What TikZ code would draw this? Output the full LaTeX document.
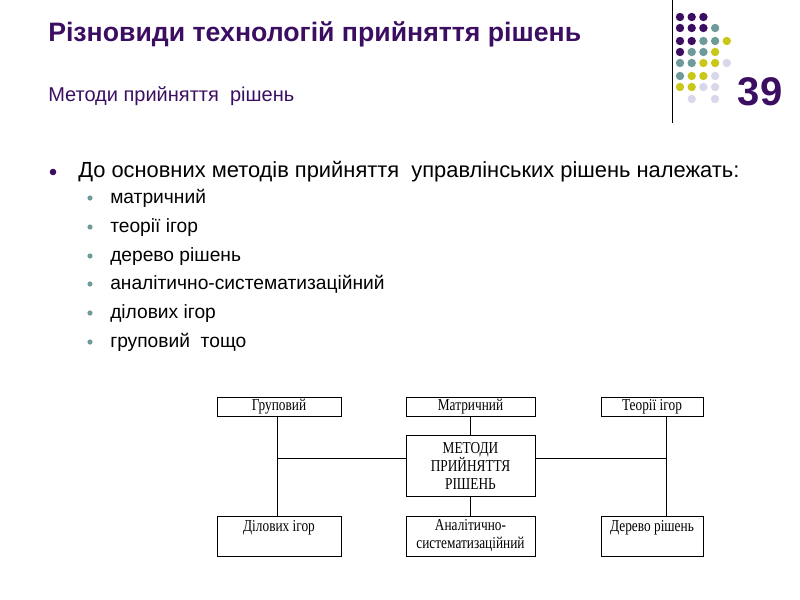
\documentclass[tikz,border=0pt]{standalone}
\usepackage{fontspec}
\setmainfont{Liberation Sans}
\newfontfamily\tms[FakeStretch=0.8]{Liberation Serif}
\begin{document}
\begin{tikzpicture}[x=0.75pt,y=-0.75pt,
  bx/.style={draw,semithick,inner sep=0,align=center,font=\tms\fontsize{12.5}{13.5}\selectfont},
  ln/.style={semithick}]
\definecolor{P}{HTML}{3B0E62}\definecolor{T}{HTML}{6E9A9A}\definecolor{Y}{HTML}{C9C81A}\definecolor{L}{HTML}{D8D8EA}
\useasboundingbox (0,0) rectangle (800,600);
\draw (672,0) -- (672,123);
\foreach \r/\row in {17/{P,P,P},28/{P,P,P,T},41/{P,P,T,T,Y},52/{P,T,T,Y},63/{T,T,Y,Y,L},76/{T,Y,Y,L},87/{Y,Y,L,L}}{
  \foreach \c [count=\i from 0] in \row {\fill[\c] (680+11.7*\i,\r) circle (4.2);}}
\fill[L] (691.7,99) circle (4.2); \fill[L] (715,99) circle (4.2);
\node[anchor=base,text=P,font=\bfseries\fontsize{30}{30}\selectfont] (num) at (760,105) {39};
\node[anchor=base west,text=P,font=\bfseries\fontsize{20}{22}\selectfont,inner sep=0] (t) at (48,41) {Різновиди технологій прийняття рішень};
\node[anchor=base west,text=P,font=\fontsize{15}{17}\selectfont,inner sep=0] (s) at (48,101) {Методи прийняття\ \ рішень};
\fill[P] (53,172) circle (3.3);
\node[anchor=base west,font=\fontsize{16.4}{18}\selectfont,inner sep=0] (m) at (78,177) {До основних методів прийняття\ \ управлінських рішень належать:};
\foreach \y/\t in {198/матричний,227/теорії ігор,256/дерево рішень,284/аналітично-систематизаційний,313/ділових ігор,342/груповий\ \ тощо}{
  \fill[T] (90,\y) circle (2.6);
  \node[anchor=base west,font=\fontsize{14.4}{16}\selectfont,inner sep=0] at (110,\y+5) {\t};}
\node[bx,minimum width=93pt,minimum height=14.25pt] (g) at (279,406.5) {Груповий};
\node[bx,minimum width=96.75pt,minimum height=14.25pt] (mt) at (470.5,406.5) {Матричний};
\node[bx,minimum width=76.5pt,minimum height=14.25pt] (ti) at (652,406.5) {Теорії ігор};
\node[bx,minimum width=96.75pt,minimum height=45.75pt] (c) at (470.5,465.5) {МЕТОДИ\\ПРИЙНЯТТЯ\\РІШЕНЬ};
\node[bx,minimum width=93pt,minimum height=30pt] (d) at (279,536) {};
\node[bx,minimum width=96.75pt,minimum height=30pt] (a) at (470.5,536) {Аналітично-\\систематизаційний};
\node[bx,minimum width=76.5pt,minimum height=30pt] (dr) at (652,536) {};
\node[font=\tms\fontsize{12.5}{13.5}\selectfont] at (279,528) {Ділових ігор};
\node[font=\tms\fontsize{12.5}{13.5}\selectfont] at (652,528) {Дерево рішень};
\coordinate (l) at (277,458); \coordinate (r) at (666,458);
\draw[ln] (g.south -| l) -- (d.north -| l);
\draw[ln] (ti.south -| r) -- (dr.north -| r);
\draw[ln] (l) -- (c.west |- l); \draw[ln] (c.east |- r) -- (r);
\draw[ln] (mt) -- (c); \draw[ln] (c) -- (a);
\end{tikzpicture}
\end{document}
